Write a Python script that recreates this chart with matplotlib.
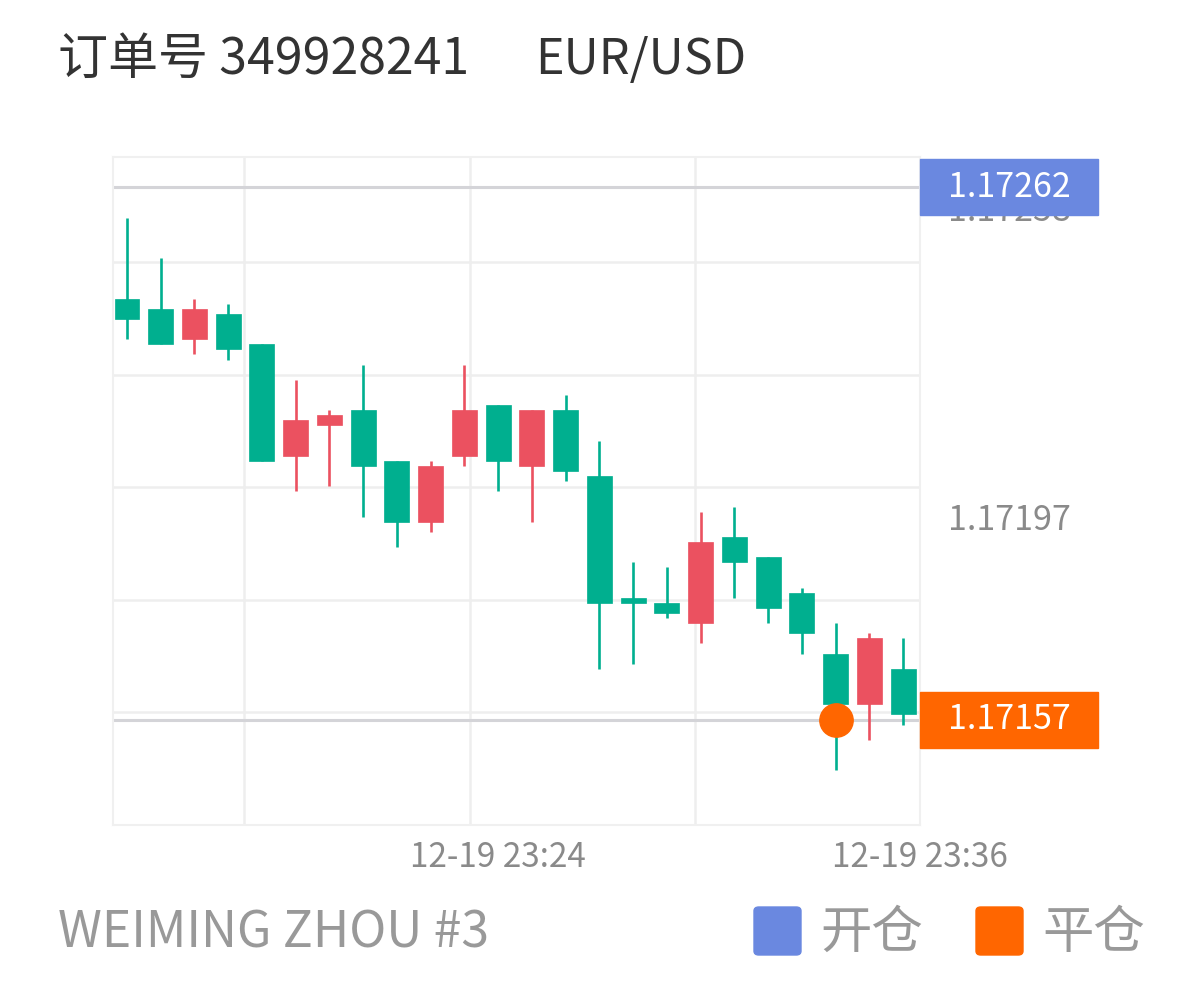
import matplotlib
matplotlib.use("Agg")
import matplotlib.pyplot as plt
from matplotlib.patches import Rectangle, FancyBboxPatch
import numpy as np

plt.rcParams['font.family'] = ['Noto Sans CJK SC', 'DejaVu Sans']

# %% data
opens  = [1.17240, 1.17238, 1.17232, 1.17237, 1.17231, 1.17209, 1.17215, 1.17218,
          1.17208, 1.17196, 1.17209, 1.17219, 1.17207, 1.17218, 1.17205, 1.17181,
          1.17180, 1.17176, 1.17193, 1.17189, 1.17182, 1.17170, 1.17160, 1.17167]
highs  = [1.17256, 1.17248, 1.17240, 1.17239, 1.17231, 1.17224, 1.17218, 1.17227,
          1.17208, 1.17208, 1.17227, 1.17219, 1.17218, 1.17221, 1.17212, 1.17188,
          1.17187, 1.17198, 1.17199, 1.17189, 1.17183, 1.17176, 1.17174, 1.17173]
lows   = [1.17232, 1.17231, 1.17229, 1.17228, 1.17208, 1.17202, 1.17203, 1.17197,
          1.17191, 1.17194, 1.17207, 1.17202, 1.17196, 1.17204, 1.17167, 1.17168,
          1.17177, 1.17172, 1.17181, 1.17176, 1.17170, 1.17147, 1.17153, 1.17156]
closes = [1.17236, 1.17231, 1.17238, 1.17230, 1.17208, 1.17216, 1.17217, 1.17207,
          1.17196, 1.17207, 1.17218, 1.17208, 1.17218, 1.17206, 1.17180, 1.17180,
          1.17178, 1.17192, 1.17188, 1.17179, 1.17174, 1.17160, 1.17173, 1.17158]

open_price = 1.17262    # 开仓
close_price = 1.17157   # 平仓
close_idx = 21          # candle where position closed
axis_prices = [1.17197, 1.17258]
x_ticks = [11, 23.5]
x_labels = ["12-19 23:24", "12-19 23:36"]
order_no = "349928241"
symbol = "EUR/USD"
account = "WEIMING ZHOU #3"

up_color = "#EB5160"    # red = up
down_color = "#00AF8F"  # green = down
blue = "#6A88E0"
orange = "#FF6600"

# %% figure
fig = plt.figure(figsize=(11.98, 9.9), dpi=100)
ax = fig.add_axes([113/1198, 1 - 825/990, (920-113)/1198, (825-156.7)/990])

x = np.arange(len(opens))
o = np.array(opens); c = np.array(closes)
colors = [up_color if cc > oo else down_color for oo, cc in zip(o, c)]

# wicks + bodies
ax.vlines(x, lows, highs, colors=colors, linewidth=1.9, zorder=3)
ax.bar(x, np.abs(c - o), bottom=np.minimum(o, c), width=0.74, color=colors,
       edgecolor=colors, linewidth=0.5, zorder=4)

ymin, ymax = 1.171362, 1.17268
ax.set_xlim(-0.415, 23.49)
ax.set_ylim(ymin, ymax)

# grid (light)
step = 0.0002219
for k in range(1, 6):
    ax.axhline(ymin + k * step, color="#eeeeee", linewidth=1.8, zorder=1)
for gx in [3.48, 10.17, 16.83]:
    ax.axvline(gx, color="#eeeeee", linewidth=1.8, zorder=1)
for s in ax.spines.values():
    s.set_color("#f0f0f0")
    s.set_linewidth(1.5)

# open / close price lines
ax.axhline(open_price, color="#d4d4d8", linewidth=2.2, zorder=2)
ax.axhline(close_price, color="#d4d4d8", linewidth=2.2, zorder=2)

# close marker
ax.plot([close_idx], [close_price], "o", color=orange, markersize=24, zorder=6)

# y labels on the right
ax.yaxis.tick_right()
ax.set_yticks(axis_prices)
ax.set_yticklabels([f"{v:.5f}" for v in axis_prices])
ax.tick_params(axis="y", length=0, pad=20, labelsize=24.5, labelcolor="#8a8a8a")
ax.set_xticks(x_ticks)
ax.set_xticklabels(x_labels)
ax.tick_params(axis="x", length=0, pad=11, labelsize=24, labelcolor="#8a8a8a")

# price tags
trans = ax.get_yaxis_transform()
box_h = 56 / 5.07 * 1e-5
box_w = (1098 - 920) / 807
for price, col in [(open_price, blue), (close_price, orange)]:
    ax.add_patch(Rectangle((1.0, price - box_h/2), box_w, box_h, transform=trans,
                           color=col, clip_on=False, zorder=10))
    ax.text(1.0 + box_w/2, price, f"{price:.5f}", transform=trans, ha="center",
            va="center", color="white", fontsize=24.5, zorder=11, clip_on=False)

# title
fig.text(58/1198, 1 - 60/990, f"订单号 {order_no}", fontsize=36, color="#333333", va="center")
fig.text(535/1198, 1 - 60/990, symbol, fontsize=35, color="#333333", va="center")

# bottom texts
fig.text(58/1198, 1 - 933/990, account, fontsize=36, color="#999999", va="center")
for bx, tx, col, lab in [(754, 820, blue, "开仓"), (976, 1042, orange, "平仓")]:
    fig.patches.append(FancyBboxPatch((bx/1198, 1 - 955/990), 47/1198, 48/990,
                                      boxstyle="round,pad=0,rounding_size=0.004",
                                      transform=fig.transFigure, color=col))
    fig.text(tx/1198, 1 - 933/990, lab, fontsize=37, color="#999999", va="center")

fig.savefig("out.png", dpi=100)
